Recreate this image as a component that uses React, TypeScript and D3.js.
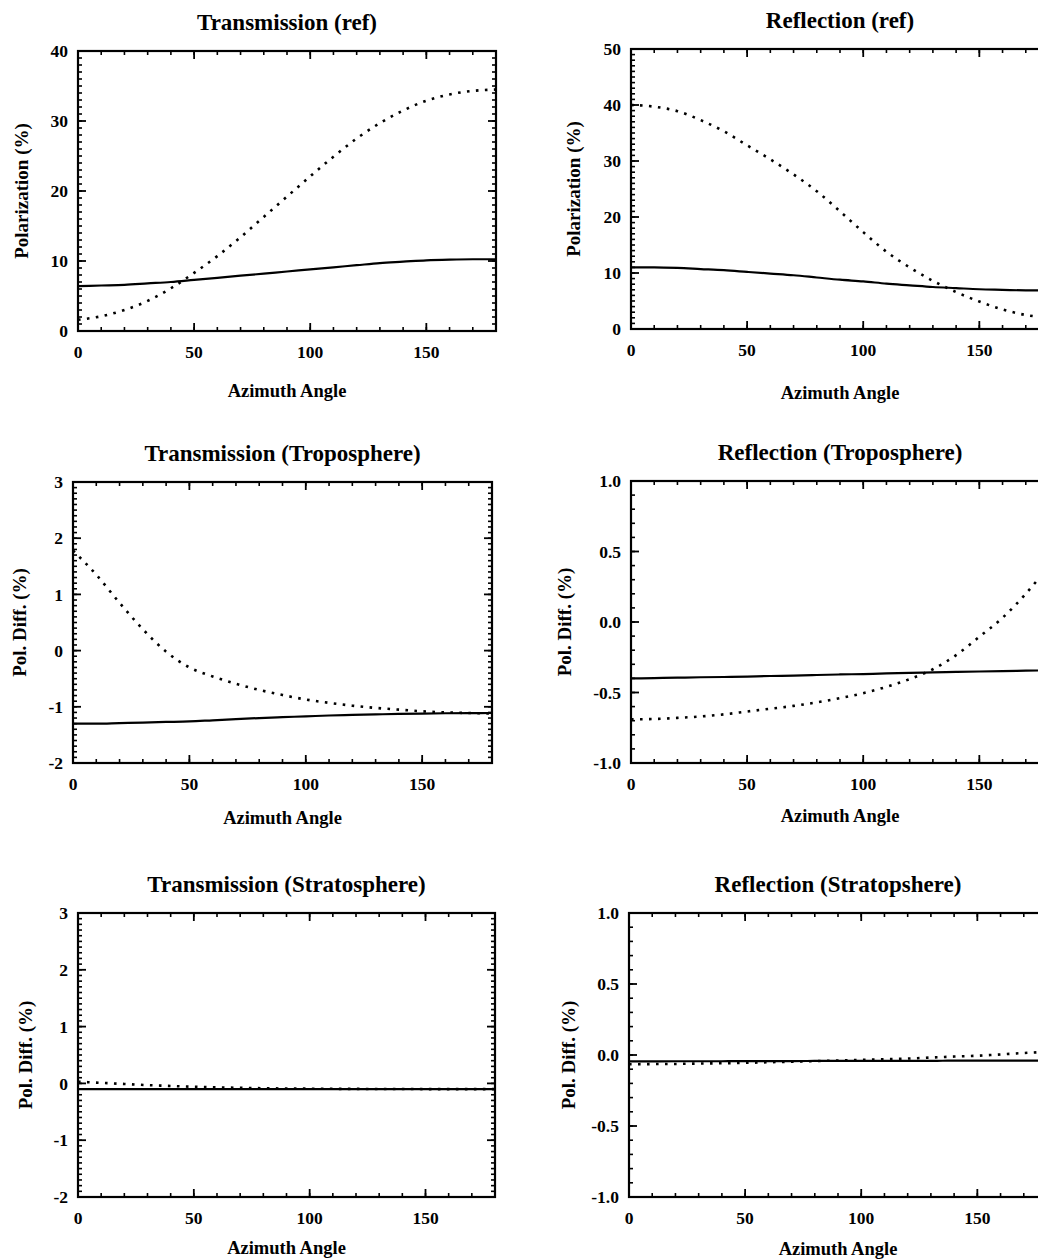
import React from "react";
import * as d3 from "d3";

// ---------- DATA ----------
const azimuth = [0, 10, 20, 30, 40, 50, 60, 70, 80, 90, 100, 110, 120, 130, 140, 150, 160, 170, 180];

const transRefSolid = [6.4, 6.5, 6.6, 6.8, 7.0, 7.3, 7.6, 7.9, 8.2, 8.5, 8.8, 9.1, 9.4, 9.7, 9.9, 10.1, 10.2, 10.25, 10.25];
const transRefDotted = [1.6, 2.1, 3.0, 4.3, 6.1, 8.3, 10.7, 13.4, 16.3, 19.2, 22.1, 24.9, 27.5, 29.7, 31.5, 32.9, 33.8, 34.3, 34.5];

const reflRefSolid = [11.0, 11.0, 10.9, 10.7, 10.5, 10.2, 9.9, 9.6, 9.2, 8.8, 8.5, 8.1, 7.8, 7.5, 7.3, 7.1, 7.0, 6.9, 6.9];
const reflRefDotted = [40.0, 39.7, 38.9, 37.3, 35.3, 32.8, 30.3, 27.6, 24.6, 21.0, 17.3, 13.8, 11.0, 8.6, 6.6, 4.9, 3.5, 2.5, 2.0];

const transTropSolid = [-1.3, -1.3, -1.29, -1.28, -1.27, -1.26, -1.24, -1.22, -1.2, -1.185, -1.17, -1.155, -1.145, -1.135, -1.127, -1.12, -1.115, -1.112, -1.11];
const transTropDotted = [1.78, 1.35, 0.85, 0.38, -0.02, -0.3, -0.46, -0.59, -0.7, -0.79, -0.87, -0.93, -0.98, -1.02, -1.05, -1.08, -1.1, -1.11, -1.12];

const reflTropSolid = [-0.4, -0.398, -0.395, -0.392, -0.39, -0.387, -0.383, -0.38, -0.376, -0.372, -0.369, -0.365, -0.361, -0.357, -0.354, -0.351, -0.348, -0.345, -0.343];
const reflTropDotted = [-0.69, -0.688, -0.68, -0.67, -0.655, -0.635, -0.615, -0.595, -0.57, -0.54, -0.505, -0.46, -0.405, -0.335, -0.235, -0.105, 0.03, 0.2, 0.4];

const transStratSolid = [-0.1, -0.1, -0.1, -0.1, -0.1, -0.1, -0.1, -0.1, -0.1, -0.1, -0.1, -0.1, -0.1, -0.1, -0.1, -0.1, -0.1, -0.1, -0.1];
const transStratDotted = [0.03, 0.01, -0.01, -0.03, -0.045, -0.06, -0.07, -0.078, -0.085, -0.09, -0.093, -0.095, -0.097, -0.098, -0.099, -0.1, -0.1, -0.1, -0.1];

const reflStratSolid = [-0.045, -0.045, -0.044, -0.044, -0.044, -0.043, -0.043, -0.043, -0.042, -0.042, -0.042, -0.041, -0.041, -0.041, -0.04, -0.04, -0.04, -0.04, -0.04];
const reflStratDotted = [-0.065, -0.064, -0.063, -0.06, -0.058, -0.055, -0.051, -0.047, -0.043, -0.039, -0.035, -0.03, -0.025, -0.018, -0.011, -0.005, 0.004, 0.014, 0.022];

const titles = [
  "Transmission (ref)",
  "Reflection (ref)",
  "Transmission (Troposphere)",
  "Reflection (Troposphere)",
  "Transmission (Stratosphere)",
  "Reflection (Stratopshere)",
];
const yTitles = ["Polarization (%)", "Polarization (%)", "Pol. Diff. (%)", "Pol. Diff. (%)", "Pol. Diff. (%)", "Pol. Diff. (%)"];
const xTitle = "Azimuth Angle";

const xTicks = [0, 50, 100, 150];
const yTicksRef1 = [0, 10, 20, 30, 40];
const yTicksRef2 = [0, 10, 20, 30, 40, 50];
const yTicksTrans = [-2, -1, 0, 1, 2, 3];
const yTicksRefl = [-1, -0.5, 0, 0.5, 1];

// ---------- LAYOUT ----------
type PanelCfg = {
  left: number; right: number; top: number; bottom: number;
  yDomain: [number, number]; yTicks: number[]; yMinor: number; yDec: number;
  solid: number[]; dotted: number[]; title: string; yTitle: string;
  yTitleX: number; xTitleDy: number;
};

const panels: PanelCfg[] = [
  { left: 78, right: 496, top: 51, bottom: 331, yDomain: [0, 40], yTicks: yTicksRef1, yMinor: 1, yDec: 0,
    solid: transRefSolid, dotted: transRefDotted, title: titles[0], yTitle: yTitles[0], yTitleX: 21, xTitleDy: 66 },
  { left: 631, right: 1049, top: 49, bottom: 329, yDomain: [0, 50], yTicks: yTicksRef2, yMinor: 1, yDec: 0,
    solid: reflRefSolid, dotted: reflRefDotted, title: titles[1], yTitle: yTitles[1], yTitleX: 573, xTitleDy: 70 },
  { left: 73, right: 492, top: 482, bottom: 763, yDomain: [-2, 3], yTicks: yTicksTrans, yMinor: 0.1, yDec: 0,
    solid: transTropSolid, dotted: transTropDotted, title: titles[2], yTitle: yTitles[2], yTitleX: 19.5, xTitleDy: 61 },
  { left: 631, right: 1049, top: 481, bottom: 763, yDomain: [-1, 1], yTicks: yTicksRefl, yMinor: 0.1, yDec: 1,
    solid: reflTropSolid, dotted: reflTropDotted, title: titles[3], yTitle: yTitles[3], yTitleX: 564, xTitleDy: 59 },
  { left: 78, right: 495, top: 913, bottom: 1197, yDomain: [-2, 3], yTicks: yTicksTrans, yMinor: 0.1, yDec: 0,
    solid: transStratSolid, dotted: transStratDotted, title: titles[4], yTitle: yTitles[4], yTitleX: 25, xTitleDy: 57 },
  { left: 629, right: 1047, top: 913, bottom: 1197, yDomain: [-1, 1], yTicks: yTicksRefl, yMinor: 0.1, yDec: 1,
    solid: reflStratSolid, dotted: reflStratDotted, title: titles[5], yTitle: yTitles[5], yTitleX: 568, xTitleDy: 58 },
];

const FONT = "'Liberation Serif', 'Times New Roman', serif";

function fmt(v: number, dec: number) {
  const s = Math.abs(v) < 1e-9 ? (0).toFixed(dec) : v.toFixed(dec);
  return s;
}

function Panel({ cfg }: { cfg: PanelCfg }) {
  const x = d3.scaleLinear().domain([0, 180]).range([cfg.left, cfg.right]);
  const y = d3.scaleLinear().domain(cfg.yDomain).range([cfg.bottom, cfg.top]);
  const nx = Math.round(180 / 10);
  const xMinor = d3.range(0, nx + 1).map((i) => i * 10);
  const ny = Math.round((cfg.yDomain[1] - cfg.yDomain[0]) / cfg.yMinor);
  const yMinor = d3.range(0, ny + 1).map((i) => cfg.yDomain[0] + i * cfg.yMinor);
  const line = d3
    .line<number>()
    .x((_, i) => x(azimuth[i]))
    .y((d) => y(d))
    .curve(d3.curveMonotoneX);
  const maj = 8;
  const min = 4;
  const cx = (cfg.left + cfg.right) / 2;
  const cy = (cfg.top + cfg.bottom) / 2;
  return (
    <g>
      {/* minor x ticks bottom & top */}
      {xMinor.map((v) => (
        <g key={"xm" + v} stroke="#000" strokeWidth={1.6}>
          <line x1={x(v)} x2={x(v)} y1={cfg.bottom} y2={cfg.bottom - min} />
          <line x1={x(v)} x2={x(v)} y1={cfg.top} y2={cfg.top + min} />
        </g>
      ))}
      {xTicks.map((v) => (
        <g key={"xM" + v} stroke="#000" strokeWidth={1.8}>
          <line x1={x(v)} x2={x(v)} y1={cfg.bottom} y2={cfg.bottom - maj} />
          <line x1={x(v)} x2={x(v)} y1={cfg.top} y2={cfg.top + maj} />
        </g>
      ))}
      {yMinor.map((v, i) => (
        <g key={"ym" + i} stroke="#000" strokeWidth={1.6}>
          <line x1={cfg.left} x2={cfg.left + min} y1={y(v)} y2={y(v)} />
          <line x1={cfg.right} x2={cfg.right - min} y1={y(v)} y2={y(v)} />
        </g>
      ))}
      {cfg.yTicks.map((v) => (
        <g key={"yM" + v} stroke="#000" strokeWidth={1.8}>
          <line x1={cfg.left} x2={cfg.left + maj} y1={y(v)} y2={y(v)} />
          <line x1={cfg.right} x2={cfg.right - maj} y1={y(v)} y2={y(v)} />
        </g>
      ))}
      <rect x={cfg.left} y={cfg.top} width={cfg.right - cfg.left} height={cfg.bottom - cfg.top}
        fill="none" stroke="#000" strokeWidth={2.2} />
      <path d={line(cfg.solid) || ""} fill="none" stroke="#000" strokeWidth={2.2} />
      <path d={line(cfg.dotted) || ""} fill="none" stroke="#000" strokeWidth={2.6} strokeDasharray="2.6 6.4" />
      {/* tick labels */}
      {xTicks.map((v) => (
        <text key={"xl" + v} x={x(v)} y={cfg.bottom + 26.5} textAnchor="middle"
          fontFamily={FONT} fontWeight="bold" fontSize={17.5}>{String(v)}</text>
      ))}
      {cfg.yTicks.map((v) => (
        <text key={"yl" + v} x={cfg.left - 10} y={y(v)} dy="0.35em" textAnchor="end"
          fontFamily={FONT} fontWeight="bold" fontSize={17.5}>{fmt(v, cfg.yDec)}</text>
      ))}
      <text x={cx} y={cfg.top - 21} textAnchor="middle" fontFamily={FONT} fontWeight="bold" fontSize={23}>
        {cfg.title}
      </text>
      <text x={cx} y={cfg.bottom + cfg.xTitleDy} textAnchor="middle" fontFamily={FONT} fontWeight="bold" fontSize={18.5}>
        {xTitle}
      </text>
      <text transform={`translate(${cfg.yTitleX},${cy}) rotate(-90)`} dy="0.35em" textAnchor="middle"
        fontFamily={FONT} fontWeight="bold" fontSize={19}>
        {cfg.yTitle}
      </text>
    </g>
  );
}

export default function App() {
  return (
    <svg width={1038} height={1259} style={{ position: "absolute", left: 0, top: 0, background: "#fff" }}>
      <rect x={0} y={0} width={1038} height={1259} fill="#fff" />
      {panels.map((p, i) => (
        <Panel key={i} cfg={p} />
      ))}
    </svg>
  );
}
